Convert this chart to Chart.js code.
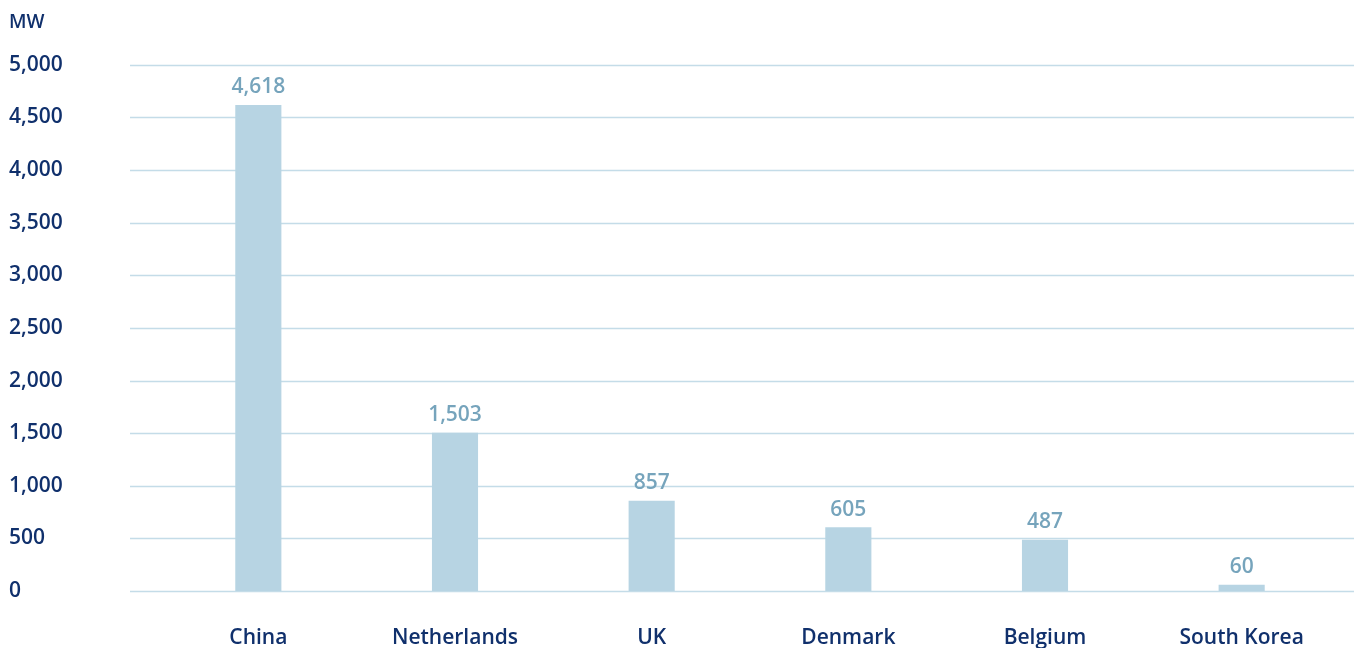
<!DOCTYPE html>
<html>
<head>
<meta charset="utf-8">
<script src="https://cdn.jsdelivr.net/npm/chart.js@4/dist/chart.umd.min.js"></script>
<style>
  html, body { margin: 0; padding: 0; background: #fff; }
  #wrap { width: 1357px; height: 648px; }
</style>
</head>
<body>
<div id="wrap"><canvas id="capacityChart"></canvas></div>
<script>
const countries = ['China', 'Netherlands', 'UK', 'Denmark', 'Belgium', 'South Korea'];
const capacityMW = [4618, 1503, 857, 605, 487, 60];
const yTicks = [0, 500, 1000, 1500, 2000, 2500, 3000, 3500, 4000, 4500, 5000];

const navy = '#10306c';
const barColor = '#b7d4e3';
const labelColor = '#76a4bc';
const gridColor = '#c4dce8';
const fontFamily = '"Open Sans", sans-serif';

// horizontal gridlines, a bit wider than the plot area
const wideGrid = {
  id: 'wideGrid',
  beforeDatasetsDraw(chart) {
    const ctx = chart.ctx;
    const y = chart.scales.y;
    const area = chart.chartArea;
    ctx.save();
    ctx.strokeStyle = gridColor;
    ctx.lineWidth = 1.5;
    yTicks.forEach(v => {
      const py = Math.round(y.getPixelForValue(v)) + 0.5;
      ctx.beginPath();
      ctx.moveTo(area.left - 30, py);
      ctx.lineTo(area.right + 14, py);
      ctx.stroke();
    });
    ctx.restore();
  }
};

// draw the values above each bar
const valueLabels = {
  id: 'valueLabels',
  afterDatasetsDraw(chart) {
    const ctx = chart.ctx;
    const meta = chart.getDatasetMeta(0);
    ctx.save();
    ctx.font = '600 21px ' + fontFamily;
    ctx.fillStyle = labelColor;
    ctx.textAlign = 'center';
    ctx.textBaseline = 'bottom';
    meta.data.forEach((bar, i) => {
      ctx.fillText(capacityMW[i].toLocaleString('en-US'), bar.x, bar.y - 7);
    });
    ctx.restore();
  }
};

const ctx = document.getElementById('capacityChart').getContext('2d');
new Chart(ctx, {
  type: 'bar',
  data: {
    labels: countries,
    datasets: [{
      data: capacityMW,
      backgroundColor: barColor,
      barPercentage: 0.7,
      categoryPercentage: 0.335
    }]
  },
  options: {
    responsive: true,
    maintainAspectRatio: false,
    animation: false,
    layout: { padding: { left: 9, right: 17, top: 8, bottom: 0 } },
    plugins: {
      legend: { display: false },
      tooltip: { enabled: false },
      title: {
        display: true,
        text: 'MW',
        align: 'start',
        color: navy,
        font: { family: fontFamily, size: 19, weight: '600' },
        padding: { top: 3, bottom: 31 }
      }
    },
    scales: {
      x: {
        grid: { display: false, drawTicks: false },
        border: { display: false },
        afterFit(scale) {
          scale.height = 57;
        },
        ticks: {
          color: navy,
          padding: 34,
          font: { family: fontFamily, size: 21, weight: '600' }
        }
      },
      y: {
        min: 0,
        max: 5000,
        afterBuildTicks(scale) {
          scale.ticks = yTicks.map(v => ({ value: v }));
        },
        afterFit(scale) {
          scale.width = 151;
        },
        border: { display: false },
        grid: { display: false },
        ticks: {
          color: navy,
          crossAlign: 'far',
          font: { family: fontFamily, size: 21, weight: '600' },
          callback: v => v.toLocaleString('en-US')
        }
      }
    }
  },
  plugins: [wideGrid, valueLabels]
});
</script>
</body>
</html>
